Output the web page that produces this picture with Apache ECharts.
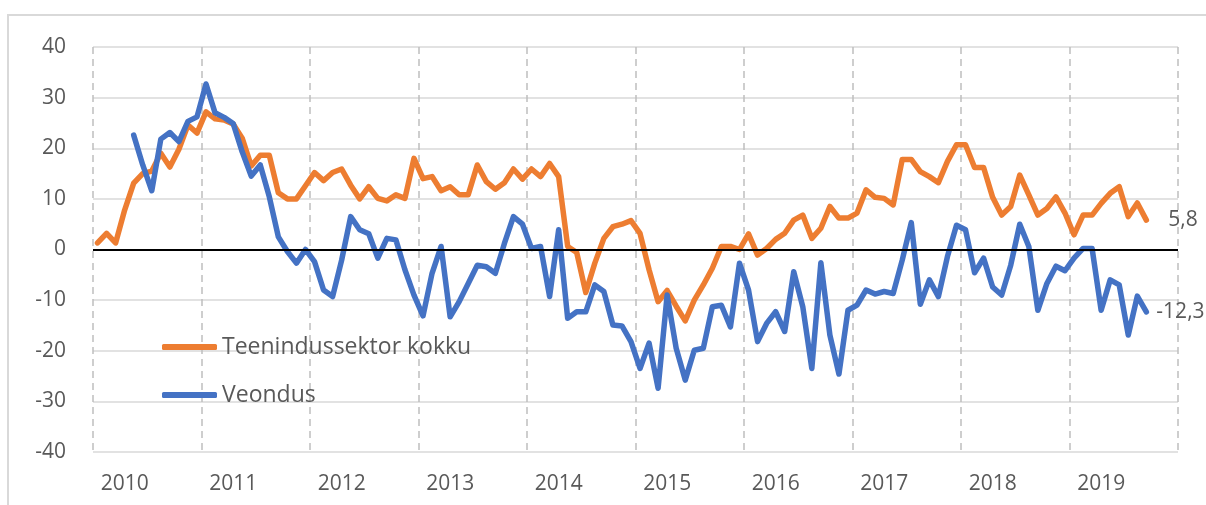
<!DOCTYPE html>
<html>
<head>
<meta charset="utf-8">
<script src="https://cdn.jsdelivr.net/npm/echarts@6/dist/echarts.min.js"></script>
<style>
  html, body { margin: 0; padding: 0; background: #fff; }
  .frame {
    position: absolute; left: 7px; top: 14px;
    width: 1300px; height: 600px;
    border: 2px solid #d9d9d9;
  }
  #main { position: absolute; left: 0; top: 0; width: 1206px; height: 505px; }
</style>
</head>
<body>
<div class="frame"></div>
<div id="main"></div>
<script>
// kuud okt 2009 ... sept 2019 (120 kategooriat)
const startYear = 2009;
const startMonth = 10;
const monthCount = 120;
const months = [];
for (let k = 0; k < monthCount; k++) {
  const m = (startMonth - 1 + k) % 12 + 1;
  const y = startYear + Math.floor((startMonth - 1 + k) / 12);
  months.push(y + "-" + (m < 10 ? "0" + m : m));
}

const seriesNames = ["Teenindussektor kokku", "Veondus"];

const teenindus = [
  1.3, 3.2, 1.3, 7.8, 13.1, 15, 15.5, 19, 16.3, 19.8, 24.6, 23,
  27.2, 25.8, 25.6, 24.8, 22, 16.5, 18.6, 18.6, 11.2, 10, 10, 12.6,
  15.2, 13.6, 15.2, 15.9, 12.7, 10, 12.4, 10.1, 9.6, 10.8, 10.1, 18,
  14, 14.4, 11.6, 12.4, 10.8, 10.8, 16.7, 13.4, 11.9, 13.2, 15.9, 13.9,
  15.9, 14.4, 17, 14.4, 0.6, -0.6, -8.5, -2.7, 2.2, 4.5, 5, 5.7,
  3.2, -4, -10.3, -8.1, -11.2, -14.1, -10, -7, -3.7, 0.6, 0.6, 0,
  3.1, -1.1, 0.2, 2, 3.2, 5.8, 6.8, 2.2, 4.2, 8.5, 6.2, 6.2,
  7.2, 11.8, 10.3, 10.1, 8.8, 17.8, 17.8, 15.4, 14.4, 13.2, 17.4, 20.7,
  20.7, 16.2, 16.2, 10.3, 6.8, 8.5, 14.7, 10.8, 6.8, 8.1, 10.4, 7.2,
  2.9, 6.8, 6.8, 9.1, 11.1, 12.4, 6.5, 9.2, 5.8
];

const veondus = [
  null, null, null, null, 22.6, 16.7, 11.6, 21.8, 23.1, 21.3, 25.3, 26.2,
  32.7, 27, 26.1, 24.9, 19.3, 14.5, 16.7, 10.4, 2.5, -0.4, -2.7, 0,
  -2.4, -8, -9.3, -2.1, 6.5, 3.9, 3.1, -1.7, 2.2, 1.9, -4, -9,
  -13.1, -4.7, 0.6, -13.3, -10.3, -6.7, -3.1, -3.4, -4.7, 1.2, 6.5, 5,
  0.2, 0.6, -9.3, 3.9, -13.6, -12.3, -12.3, -7, -8.3, -14.9, -15.1, -18.2,
  -23.5, -18.5, -27.4, -9, -19.5, -25.8, -19.9, -19.5, -11.3, -11, -15.3, -2.7,
  -8, -18.2, -14.6, -12.3, -16.2, -4.4, -11.3, -23.5, -2.6, -16.9, -24.6, -12,
  -11, -8, -8.8, -8.3, -8.7, -2.1, 5.3, -10.8, -6, -9.3, -1.4, 4.8,
  3.9, -4.6, -1.7, -7.4, -9, -3.1, 5, 0.6, -12, -6.7, -3.3, -4.2,
  -1.7, 0.2, 0.2, -12, -6, -7, -16.9, -9.2, -12.3
];

const textColor = "#595959";
const fontFamily = "'Open Sans', sans-serif";

const myChart = echarts.init(document.getElementById("main"), null, { renderer: "canvas" });

const commaLabel = p => String(p.value).replace(".", ",");

const option = {
  animation: false,
  backgroundColor: "transparent",
  color: ["#ED7D31", "#4472C4"],
  textStyle: { fontFamily: fontFamily },
  grid: {
    left: 93,
    right: 28,
    top: 47,
    bottom: 53,
    containLabel: false
  },
  legend: {
    data: seriesNames,
    orient: "vertical",
    left: 157,
    top: 330,
    icon: "roundRect",
    itemWidth: 55,
    itemHeight: 6,
    itemGap: 24,
    textStyle: {
      color: textColor,
      fontSize: 23,
      fontFamily: fontFamily,
      lineHeight: 24
    }
  },
  xAxis: {
    type: "category",
    data: months,
    boundaryGap: true,
    axisLine: { show: false },
    axisTick: { show: false },
    axisLabel: {
      interval: i => i % 12 === 3,
      formatter: v => v.slice(0, 4),
      color: textColor,
      fontSize: 21,
      margin: 22
    },
    splitLine: {
      show: true,
      interval: i => i % 12 === 0,
      lineStyle: { color: "#bfbfbf", width: 1.5, type: [7, 5] }
    }
  },
  yAxis: {
    type: "value",
    min: -40,
    max: 40,
    interval: 10,
    axisLine: { show: false },
    axisTick: { show: false },
    axisLabel: {
      color: textColor,
      fontSize: 21,
      margin: 27
    },
    splitLine: {
      show: true,
      lineStyle: { color: "#d9d9d9", width: 1.5 }
    }
  },
  series: [
    {
      name: seriesNames[0],
      type: "line",
      data: teenindus,
      symbol: "none",
      lineStyle: { width: 5.5, cap: "round", join: "round" },
      endLabel: {
        show: true,
        formatter: commaLabel,
        color: textColor,
        fontSize: 21,
        distance: 22
      },
      markLine: {
        silent: true,
        symbol: "none",
        label: { show: false },
        lineStyle: { color: "#000", width: 1.8, type: "solid" },
        data: [{ yAxis: 0 }]
      }
    },
    {
      name: seriesNames[1],
      type: "line",
      data: veondus,
      symbol: "none",
      connectNulls: false,
      lineStyle: { width: 5.5, cap: "round", join: "round" },
      endLabel: {
        show: true,
        formatter: commaLabel,
        color: textColor,
        fontSize: 21,
        distance: 10
      }
    }
  ]
};

myChart.setOption(option);
</script>
</body>
</html>
